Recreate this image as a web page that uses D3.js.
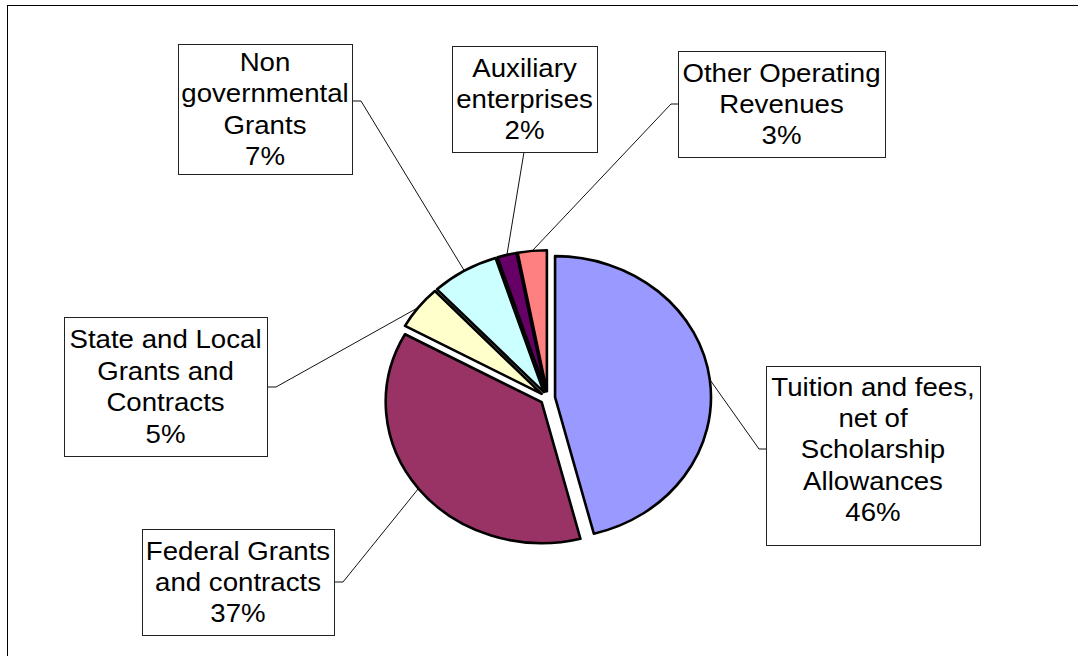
<!DOCTYPE html>
<html>
<head>
<meta charset="utf-8">
<script src="https://cdn.jsdelivr.net/npm/d3@7"></script>
<style>
  body { margin: 0; background: #fff; }
  svg { display: block; }
  .box { fill: #fff; stroke: #222; stroke-width: 1; }
  .leader { fill: none; stroke: #111; stroke-width: 1; }
  .label { font-family: "Liberation Sans", Arial, sans-serif; font-size: 25px; fill: #000; }
</style>
</head>
<body>
<script>
// revenue shares, clockwise from 12 o'clock
const categories = [
  "Tuition and fees, net of Scholarship Allowances",
  "Federal Grants and contracts",
  "State and Local Grants and Contracts",
  "Non governmental Grants",
  "Auxiliary enterprises",
  "Other Operating Revenues"
]
const values = [46, 37, 5, 7, 2, 3]
const labelLines = [
  ["Tuition and fees,", "net of", "Scholarship", "Allowances"],
  ["Federal Grants", "and contracts"],
  ["State and Local", "Grants and", "Contracts"],
  ["Non", "governmental", "Grants"],
  ["Auxiliary", "enterprises"],
  ["Other Operating", "Revenues"]
]
const colors = ["#9999FF", "#993366", "#FFFFCC", "#CCFFFF", "#660066", "#FF8080"]

// label box layout: x0, y0, x1, y1, where the leader meets the box, text shift
const boxes = [
  { x0: 766, y0: 366, x1: 980, y1: 545, side: "left", ay: 449, ty: -6 },
  { x0: 142, y0: 529, x1: 334, y1: 635, side: "right", ay: 582, ty: 0 },
  { x0: 64, y0: 317, x1: 267, y1: 456, side: "right", ay: 387, ty: 0 },
  { x0: 178, y0: 44, x1: 352, y1: 174, side: "right", ay: 101, ty: 0 },
  { x0: 452, y0: 46, x1: 597, y1: 152, side: "bottom", ax: 524, ty: 0 },
  { x0: 678, y0: 51, x1: 885, y1: 157, side: "left", ay: 104, ty: 0 }
]

const width = 1078, height = 656
const cx = 547.6, cy = 398
const radius = 141, explode = 6.8, stretch = 1.106
const lineH = 31.5

const svg = d3.select("body").append("svg")
    .attr("width", width)
    .attr("height", height)

// chart area frame (runs off the right and bottom)
svg.append("rect")
    .attr("x", 7.5)
    .attr("y", 5.5)
    .attr("width", 1200)
    .attr("height", 800)
    .style("fill", "none")
    .style("stroke", "#000")
    .style("stroke-width", 1)

const pie = d3.pie().sort(null).value(function(d){ return d })
const arcs = pie(values)
const arc = d3.arc().innerRadius(0).outerRadius(radius)
const pct = d3.format(".0%")
const total = d3.sum(values)

function mid(d){ return (d.startAngle + d.endAngle) / 2 }

// point on the outside of an exploded slice, in page coords
function edgePoint(d){
  const a = mid(d), r = radius + explode
  return [cx + Math.sin(a) * r * stretch, cy - Math.cos(a) * r]
}

// leader lines
svg.selectAll(".leader")
    .data(arcs)
    .enter()
    .append("polyline")
      .attr("class", "leader")
      .attr("points", function(d, i){
        const b = boxes[i]
        const p = edgePoint(d)
        let pts
        if (b.side === "left") pts = [p, [b.x0 - 7, b.ay], [b.x0, b.ay]]
        else if (b.side === "right") pts = [p, [b.x1 + 9, b.ay], [b.x1, b.ay]]
        else pts = [p, [b.ax, b.y1]]
        return pts.map(function(q){ return q.join(",") }).join(" ")
      })

// pie
const pieG = svg.append("g")
    .attr("transform", "translate(" + cx + "," + cy + ") scale(" + stretch + ",1)")

pieG.selectAll(".slice")
    .data(arcs)
    .enter()
    .append("path")
      .attr("class", "slice")
      .attr("d", arc)
      .attr("transform", function(d){
        const a = mid(d)
        return "translate(" + Math.sin(a) * explode + "," + (-Math.cos(a) * explode) + ")"
      })
      .attr("vector-effect", "non-scaling-stroke")
      .style("fill", function(d, i){ return colors[i] })
      .style("stroke", "#000")
      .style("stroke-width", 2.6)
      .style("stroke-linejoin", "round")

// label boxes
const labels = svg.selectAll(".lbl")
    .data(arcs)
    .enter()
    .append("g")
      .attr("class", "lbl")

labels.append("rect")
    .attr("class", "box")
    .attr("x", function(d, i){ return boxes[i].x0 + 0.5 })
    .attr("y", function(d, i){ return boxes[i].y0 + 0.5 })
    .attr("width", function(d, i){ return boxes[i].x1 - boxes[i].x0 })
    .attr("height", function(d, i){ return boxes[i].y1 - boxes[i].y0 })

labels.append("text")
    .attr("class", "label")
    .attr("text-anchor", "middle")
    .attr("transform", function(d, i){
      const b = boxes[i]
      const lines = labelLines[i].length + 1
      const y = (b.y0 + b.y1) / 2 + b.ty - (lines - 1) / 2 * lineH + 9
      return "translate(" + ((b.x0 + b.x1) / 2) + "," + y + ") scale(" + stretch + ",1)"
    })
    .each(function(d, i){
      const t = d3.select(this)
      const lines = labelLines[i].concat([pct(values[i] / total)])
      lines.forEach(function(s, k){
        t.append("tspan")
          .attr("x", 0)
          .attr("y", k * lineH)
          .text(s)
      })
    })
</script>
</body>
</html>
